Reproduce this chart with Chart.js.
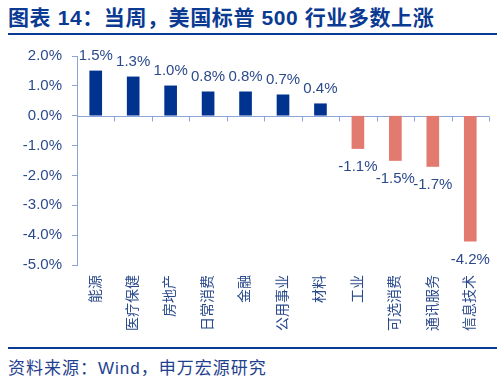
<!DOCTYPE html>
<html>
<head>
<meta charset="utf-8">
<script src="https://cdn.jsdelivr.net/npm/chart.js@4"></script>
<style>
  html, body { margin: 0; padding: 0; background: #fff; }
  body { width: 502px; height: 381px; position: relative; overflow: hidden;
         font-family: "Liberation Sans", "Noto Sans CJK SC", sans-serif; }
  #title { position: absolute; left: 8px; top: 5px; font-size: 21px; font-weight: bold; letter-spacing: 0.6px;
           color: #0b3a93; white-space: nowrap; line-height: 26px; }
  #line1 { position: absolute; left: 8px; top: 33px; width: 489px; height: 2px; background: #0b3a93; }
  #line2 { position: absolute; left: 8px; top: 347px; width: 489px; height: 2px; background: #0b3a93; }
  #foot { position: absolute; left: 8px; top: 357px; font-size: 17px; letter-spacing: 1px; color: #1f3f8f;
          white-space: nowrap; line-height: 24px; }
  #wrap { position: absolute; left: 0; top: 37px; width: 502px; height: 308px; }
</style>
</head>
<body>
<div id="title">图表 14：当周，美国标普 500 行业多数上涨</div>
<div id="line1"></div>
<div id="wrap"><canvas id="c" width="502" height="308"></canvas></div>
<div id="line2"></div>
<div id="foot">资料来源：Wind，申万宏源研究</div>
<script>
const categories = ["能源", "医疗保健", "房地产", "日常消费", "金融", "公用事业", "材料", "工业", "可选消费", "通讯服务", "信息技术"];
const values = [1.5, 1.3, 1.0, 0.8, 0.8, 0.7, 0.4, -1.1, -1.5, -1.7, -4.2];
const yTicks = [2, 1, 0, -1, -2, -3, -4, -5];

const BLUE = "#00338f";
const SALMON = "#e37a70";
const TEXT = "#2b4a8c";
const AXIS = "#8aa4d8";
const FONT = '"Liberation Sans", "Noto Sans CJK SC", sans-serif';

const zeroLine = {
  id: "zeroLine",
  beforeDatasetsDraw(chart) {
    const ctx = chart.ctx, x = chart.scales.x, y = chart.scales.y;
    const y0 = Math.round(y.getPixelForValue(0)) + 0.5;
    ctx.save();
    ctx.strokeStyle = AXIS;
    ctx.lineWidth = 1;
    ctx.beginPath();
    ctx.moveTo(chart.chartArea.left, y0);
    ctx.lineTo(chart.chartArea.right, y0);
    const n = categories.length;
    for (let i = 1; i <= n; i++) {
      const px = Math.round((x.getPixelForValue(i - 1) + (i < n ? x.getPixelForValue(i) : 2 * x.getPixelForValue(i - 1) - x.getPixelForValue(i - 2))) / 2) + 0.5;
      ctx.moveTo(px, y0);
      ctx.lineTo(px, y0 + 5);
    }
    ctx.stroke();
    ctx.restore();
  }
};

const valueLabels = {
  id: "valueLabels",
  afterDatasetsDraw(chart) {
    const ctx = chart.ctx;
    const meta = chart.getDatasetMeta(0);
    ctx.save();
    ctx.fillStyle = TEXT;
    ctx.font = "15px " + FONT;
    ctx.textAlign = "center";
    meta.data.forEach((bar, i) => {
      const v = values[i];
      const txt = v.toFixed(1) + "%";
      if (v >= 0) {
        ctx.textBaseline = "alphabetic";
        ctx.fillText(txt, bar.x, bar.y - 11);
      } else {
        ctx.textBaseline = "top";
        ctx.fillText(txt, bar.x, bar.y + 11);
      }
    });
    ctx.restore();
  }
};

new Chart(document.getElementById("c"), {
  type: "bar",
  data: {
    labels: categories,
    datasets: [{
      data: values,
      backgroundColor: values.map(v => v >= 0 ? BLUE : SALMON),
      barThickness: 12
    }]
  },
  options: {
    responsive: false,
    animation: false,
    layout: { padding: { top: 12, right: 13, left: 0, bottom: 0 } },
    plugins: { legend: { display: false }, tooltip: { enabled: false } },
    scales: {
      x: {
        position: "bottom",
        grid: { display: false, drawTicks: false },
        border: { display: false },
        ticks: { minRotation: 90, maxRotation: 90, autoSkip: false, padding: 10,
                 color: TEXT, font: { size: 14, family: FONT } },
        afterFit(s) { s.height = 80; }
      },
      y: {
        min: -5, max: 2,
        afterBuildTicks(s) { s.ticks = yTicks.map(v => ({ value: v })); },
        grid: { display: true, drawOnChartArea: false, drawTicks: true, tickLength: 5, color: AXIS },
        border: { display: true, color: AXIS },
        ticks: { padding: 10, color: TEXT, font: { size: 15, family: FONT },
                 callback: v => Number(v).toFixed(1) + "%" },
        afterFit(s) { s.width = 77; }
      }
    }
  },
  plugins: [zeroLine, valueLabels]
});
</script>
</body>
</html>
